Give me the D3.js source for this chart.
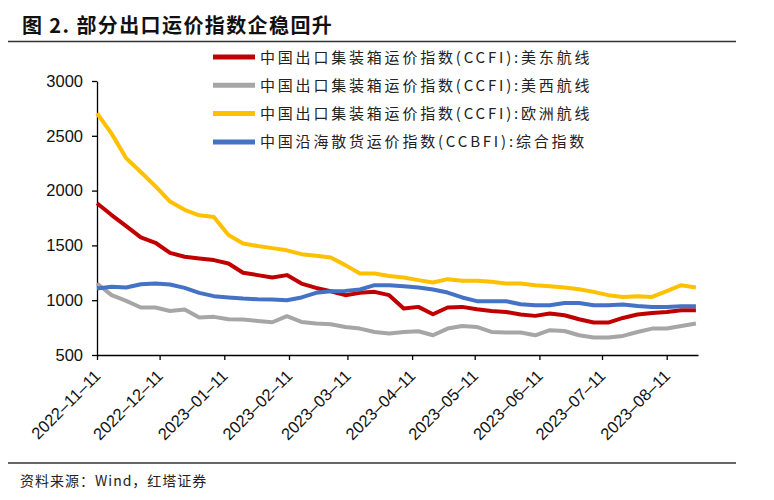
<!DOCTYPE html>
<html><head><meta charset="utf-8">
<script src="https://cdn.jsdelivr.net/npm/d3@7/dist/d3.min.js"></script>
<style>
body{margin:0;background:#fff;}
svg{display:block;}
</style></head>
<body><svg id="chart" width="774" height="500"></svg>
<script>
const dates = ["2022-11-11","2022-11-18","2022-11-25","2022-12-02","2022-12-09","2022-12-16","2022-12-23","2022-12-30",
"2023-01-06","2023-01-13","2023-01-20","2023-01-27","2023-02-03","2023-02-10","2023-02-17","2023-02-24",
"2023-03-03","2023-03-10","2023-03-17","2023-03-24","2023-03-31","2023-04-07","2023-04-14","2023-04-21","2023-04-28",
"2023-05-05","2023-05-12","2023-05-19","2023-05-26","2023-06-02","2023-06-09","2023-06-16","2023-06-23","2023-06-30",
"2023-07-07","2023-07-14","2023-07-21","2023-07-28","2023-08-04","2023-08-11","2023-08-18","2023-08-25"];
const usEast = [1884,1777,1676,1573,1524,1432,1396,1381,1366,1335,1250,1229,1207,1229,1152,1112,1082,
1046,1067,1076,1046,924,939,872,933,939,918,902,893,869,857,878,863,826,796,796,838,869,884,893,909,909];
const usWest = [1152,1046,994,933,933,902,915,842,848,826,824,811,799,854,802,787,781,
756,741,710,696,710,717,680,741,765,756,710,705,705,680,726,719,680,659,659,674,710,741,741,765,787];
const europe = [2706,2520,2295,2170,2040,1900,1825,1775,1760,1594,1518,1494,1475,1455,1420,1405,1390,
1320,1244,1244,1220,1207,1183,1162,1192,1177,1177,1168,1152,1152,1137,1128,1116,1100,1076,1046,1030,1037,1030,1082,1137,1116];
const ccbfi = [1107,1122,1116,1146,1152,1143,1112,1067,1037,1025,1015,1009,1006,1000,1025,1067,1082,
1085,1098,1137,1137,1128,1116,1098,1070,1025,991,991,991,963,954,954,975,975,954,954,960,948,939,939,945,945];
const seriesNames = ["中国出口集装箱运价指数(CCFI):美东航线","中国出口集装箱运价指数(CCFI):美西航线","中国出口集装箱运价指数(CCFI):欧洲航线","中国沿海散货运价指数(CCBFI):综合指数"];
const seriesColors = ["#C00000","#A6A6A6","#FFC000","#4472C4"];
const xTickLabels = ["2022-11-11","2022-12-11","2023-01-11","2023-02-11","2023-03-11","2023-04-11","2023-05-11","2023-06-11","2023-07-11","2023-08-11"];
const yTicks = [500,1000,1500,2000,2500,3000];
const titleText = "图 2. 部分出口运价指数企稳回升";
const sourceText = "资料来源：Wind，红塔证券";

const parse = d3.utcParse("%Y-%m-%d");
const svg = d3.select("#chart");
const x = d3.scaleUtc().domain([parse("2022-11-11"), parse("2023-08-26")]).range([97, 698]);
const y = d3.scaleLinear().domain([500, 3000]).range([355, 81]);

// title
svg.append("text").attr("x", 22).attr("y", 33)
  .style("font-family", "'Noto Sans CJK SC', sans-serif").style("font-weight", "bold")
  .style("font-size", "20px").style("letter-spacing", "1.4px").attr("fill", "#111").text(titleText);
svg.append("line").attr("x1", 8).attr("x2", 736).attr("y1", 41.5).attr("y2", 41.5)
  .attr("stroke", "#333").attr("stroke-width", 1.5);
svg.append("line").attr("x1", 8).attr("x2", 736).attr("y1", 463).attr("y2", 463)
  .attr("stroke", "#333").attr("stroke-width", 1.5);
svg.append("text").attr("x", 20).attr("y", 486)
  .style("font-family", "'Noto Sans CJK SC', sans-serif").style("font-size", "14px")
  .style("letter-spacing", "1px").attr("fill", "#222").text(sourceText);

// axes
const xAxis = d3.axisBottom(x).tickValues(xTickLabels.map(parse)).tickSize(5).tickSizeOuter(0).tickFormat("");
const gx = svg.append("g").attr("transform", "translate(0,355)").call(xAxis);
gx.selectAll("path,line").attr("stroke", "#000").attr("stroke-width", 1.3);
gx.selectAll(".tick").append("text")
  .attr("transform", "translate(4,22) rotate(-45)")
  .attr("text-anchor", "end").attr("fill", "#111")
  .style("font-family", "'Liberation Sans', Arial, sans-serif").style("font-size", "16.5px")
  .text((d, i) => xTickLabels[i].replace(/-/g, "–"));

const yAxis = d3.axisLeft(y).tickValues(yTicks).tickSize(5).tickSizeOuter(0).tickFormat(d3.format("d"));
const gy = svg.append("g").attr("transform", "translate(97,0)").call(yAxis);
gy.selectAll("path,line").attr("stroke", "#000").attr("stroke-width", 1.3);
gy.selectAll("text").attr("fill", "#111").attr("x", -14)
  .style("font-family", "'Liberation Sans', Arial, sans-serif").style("font-size", "16.5px");

// lines
const allSeries = [usEast, usWest, europe, ccbfi];
const line = d3.line().x((d, i) => x(parse(dates[i]))).y(d => y(d));
const drawOrder = [1, 2, 0, 3];
drawOrder.forEach(k => {
  svg.append("path").datum(allSeries[k]).attr("d", line)
    .attr("fill", "none").attr("stroke", seriesColors[k]).attr("stroke-width", 4)
    .attr("stroke-linejoin", "round");
});

// legend
const lg = svg.append("g");
seriesNames.forEach((name, i) => {
  const yy = 57 + i * 28.3;
  lg.append("line").attr("x1", 213).attr("x2", 255).attr("y1", yy).attr("y2", yy)
    .attr("stroke", seriesColors[i]).attr("stroke-width", 5);
  lg.append("text").attr("x", 260).attr("y", yy + 5.5)
    .style("font-family", "'Noto Sans CJK SC', sans-serif").style("font-size", "15px")
    .style("letter-spacing", "2.8px").attr("fill", "#222").text(name);
});
</script></body></html>
